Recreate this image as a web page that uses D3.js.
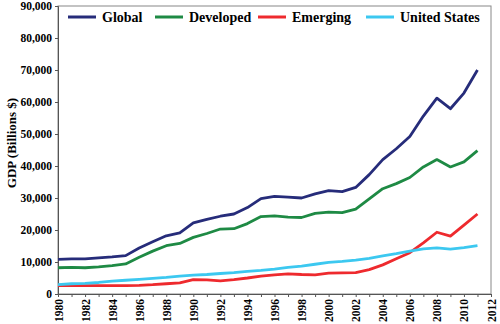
<!DOCTYPE html>
<html><head><meta charset="utf-8">
<script src="https://cdn.jsdelivr.net/npm/d3@7"></script>
<style>body{margin:0;background:#fff}svg{display:block}</style>
</head><body>
<svg id="c" width="500" height="324"></svg>
<script>
const years = d3.range(1980, 2012);
const seriesNames = ["Global", "Developed", "Emerging", "United States"];
const colors = ["#262C7A", "#1E8A44", "#EE2A2E", "#3CC8F0"];
const globalVals = [10800,11000,11000,11300,11600,12000,14400,16300,18200,19100,22200,23300,24300,25000,27000,29800,30500,30300,30000,31300,32300,32000,33300,37300,42000,45400,49200,55600,61200,57900,62800,70000];
const developedVals = [8200,8300,8200,8500,8900,9400,11500,13400,15100,15800,17700,18900,20300,20400,22000,24200,24400,24000,23900,25200,25600,25400,26500,29700,32900,34500,36400,39700,42000,39700,41300,44800];
const emergingVals = [2600,2600,2600,2600,2600,2600,2700,2900,3200,3500,4500,4400,4100,4500,5000,5600,6000,6300,6100,6000,6500,6600,6700,7600,9100,11000,12900,16000,19300,18100,21500,25000];
const usVals = [2900,3200,3300,3600,4000,4300,4600,4900,5200,5600,5900,6100,6400,6700,7100,7400,7800,8300,8700,9300,9900,10200,10600,11100,11900,12600,13400,14100,14400,14000,14500,15100];
const yTicks = d3.range(0, 90001, 10000);
const xTicks = d3.range(1980, 2013, 2);
const yTitle = "GDP (Billions $)";

const allVals = [globalVals, developedVals, emergingVals, usVals];
const svg = d3.select("#c");
const L = 58, R = 491, T = 6, B = 294;
const x = d3.scaleLinear().domain([1980, 2012]).range([L, R]);
const y = d3.scaleLinear().domain([0, 90000]).range([B, T]);
const font = "'Liberation Serif','Times New Roman',serif";

// frame
svg.append("rect").attr("x", L).attr("y", T).attr("width", R - L).attr("height", B - T)
  .attr("fill", "none").attr("stroke", "#888").attr("stroke-width", 1);

// y axis
const ya = svg.append("g").attr("transform", `translate(${L},0)`)
  .call(d3.axisLeft(y).tickValues(yTicks).tickSize(3).tickPadding(3).tickFormat(d3.format(",")));
ya.select(".domain").attr("stroke", "#555");
ya.selectAll("line").attr("stroke", "#555");
ya.selectAll("text").attr("font-family", font).attr("font-weight", "bold").attr("font-size", 11.5).attr("fill", "#000");

// x axis
const xa = svg.append("g").attr("transform", `translate(0,${B})`)
  .call(d3.axisBottom(x).tickValues(d3.range(1980, 2013)).tickSize(3).tickFormat(""));
xa.select(".domain").attr("stroke", "#555");
xa.selectAll("line").attr("stroke", "#555");
const xl = svg.append("g").attr("transform", `translate(0,${B})`)
  .call(d3.axisBottom(x).tickValues(xTicks).tickSize(0).tickFormat(d3.format("d")));
xl.select(".domain").remove();
xl.selectAll("text").attr("font-family", font).attr("font-weight", "bold").attr("font-size", 11.5).attr("fill", "#000")
  .attr("transform", "rotate(-90)").attr("text-anchor", "end").attr("x", -5).attr("y", 0).attr("dy", "0.35em");

// y title
svg.append("text").attr("transform", `translate(11,143) rotate(-90)`)
  .attr("text-anchor", "middle").attr("dy", "0.35em")
  .attr("font-family", font).attr("font-weight", "bold").attr("font-size", 13).text(yTitle);

// lines
const line = d3.line().x((d, i) => x(years[i])).y(d => y(d));
allVals.forEach((vals, k) => {
  svg.append("path").datum(vals).attr("d", line).attr("fill", "none")
    .attr("stroke", colors[k]).attr("stroke-width", 2.8).attr("stroke-linejoin", "round");
});

// legend
const legX = [68, 155, 258, 366];
seriesNames.forEach((n, k) => {
  const g = svg.append("g").attr("transform", `translate(${legX[k]},17)`);
  g.append("line").attr("x1", 0).attr("x2", 28).attr("stroke", colors[k]).attr("stroke-width", 3);
  g.append("text").attr("x", 34).attr("dy", "0.35em").attr("font-family", font)
    .attr("font-weight", "bold").attr("font-size", 14).text(n);
});
</script>
</body></html>
